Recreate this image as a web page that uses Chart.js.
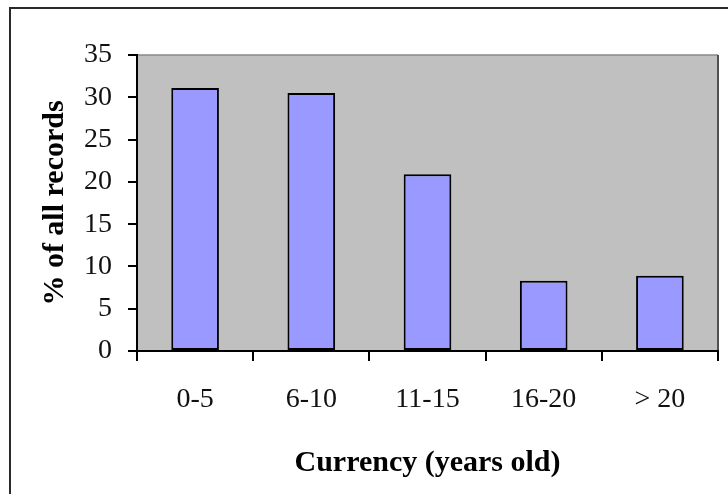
<!DOCTYPE html>
<html>
<head>
<meta charset="utf-8">
<script src="https://cdn.jsdelivr.net/npm/chart.js@4"></script>
<style>
html,body{margin:0;padding:0;background:#fff;}
#wrap{width:728px;height:494px;position:relative;}
</style>
</head>
<body>
<div id="wrap"><canvas id="currencyChart" width="728" height="494"></canvas></div>
<script>
let categories = ["0-5", "6-10", "11-15", "16-20", "> 20"];
let percentRecords = [31.1, 30.5, 20.9, 8.3, 8.9];
let yTicks = [0, 5, 10, 15, 20, 25, 30, 35];

/* gray plot area + outer frame, like the old Excel chart */
let framePlugin = {
id: "frame",
beforeDraw(chart){
let c = chart.ctx;
let a = chart.chartArea;
c.save();
c.fillStyle = "#fff";
c.fillRect(0, 0, chart.width, chart.height);
c.strokeStyle = "#2a2a2a";
c.lineWidth = 2;
c.strokeRect(10, 8, chart.width + 20, chart.height + 20);
c.fillStyle = "#c0c0c0";
c.fillRect(a.left, a.top, a.right - a.left, a.bottom - a.top);
c.strokeStyle = "#8a8a8a";
c.lineWidth = 1.5;
c.beginPath();
c.moveTo(a.left, a.top);
c.lineTo(a.right, a.top);
c.stroke();
c.strokeStyle = "#505050";
c.lineWidth = 2;
c.beginPath();
c.moveTo(a.right, a.top);
c.lineTo(a.right, a.bottom);
c.stroke();
c.restore();
}
};

let serif = '"Liberation Serif", "Times New Roman", serif';
let ctx = document.getElementById("currencyChart").getContext("2d");

new Chart(ctx,{
type:'bar',
data:{
labels:categories,
datasets:[{
label:'% of all records',
data:percentRecords,
backgroundColor:'#9999ff',
borderColor:'#000',
borderWidth:2,
borderSkipped:false,
categoryPercentage:1,
barPercentage:0.41
}]
},
options:{
responsive:false,
animation:false,
layout:{padding:{left:0, top:55, right:10, bottom:0}},
plugins:{legend:{display:false}, tooltip:{enabled:false}},
scales:{
x:{
afterFit(scale){ scale.height = 143; },
grid:{display:true, drawOnChartArea:false, drawTicks:true, tickLength:10, color:'#000', lineWidth:2, offset:true},
border:{display:true, color:'#000', width:2},
ticks:{color:'#111', padding:22, maxRotation:0, font:{family:serif, size:28}},
title:{display:true, text:'Currency (years old)', color:'#000', padding:{top:0, bottom:13},
font:{family:serif, size:30, weight:'bold'}}
},
y:{
min:0,
max:35,
afterFit(scale){ scale.width = 137; },
afterBuildTicks(scale){ scale.ticks = yTicks.map(v => ({value:v})); },
grid:{display:true, drawOnChartArea:false, drawTicks:true, tickLength:9, color:'#000', lineWidth:2},
border:{display:true, color:'#000', width:2},
ticks:{color:'#111', padding:16, font:{family:serif, size:28}},
title:{display:true, text:'% of all records', color:'#000', padding:{top:37, bottom:0},
font:{family:serif, size:30, weight:'bold'}}
}
}
},
plugins:[framePlugin]
});
</script>
</body>
</html>
